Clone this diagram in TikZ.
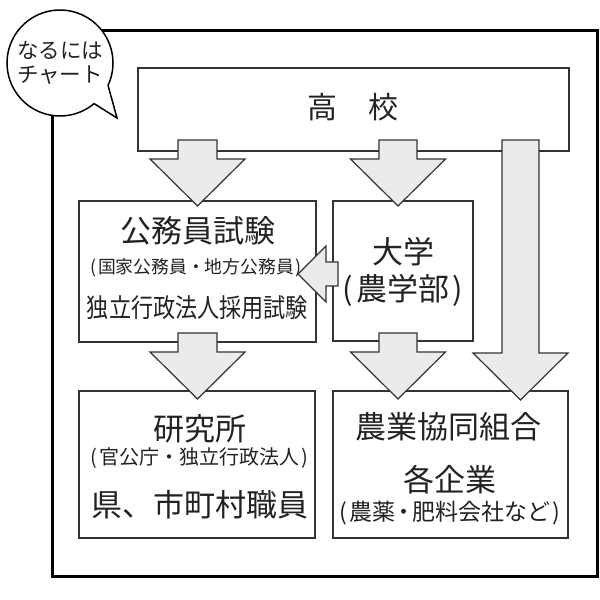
\documentclass[tikz,border=0pt]{standalone}
\usepackage{fontspec}
\newfontfamily\jp{Noto Sans CJK JP}
\usetikzlibrary{calc}
\definecolor{linec}{HTML}{333333}
\definecolor{arrfill}{HTML}{EBEBEB}
\definecolor{txtc}{HTML}{222222}
\newcommand\bdown[7]{%
  \path[blockarrow] let \p1=(#1.south), \p2=(#2.north) in
  ({#3pt-#6pt},{\y1+#4pt}) -- ({#3pt+#6pt},{\y1+#4pt}) -- ({#3pt+#6pt},{\y2-#5pt+47pt})
  -- ({#3pt+#7pt},{\y2-#5pt+47pt}) -- ({#3pt},{\y2-#5pt}) -- ({#3pt-#7pt},{\y2-#5pt+47pt})
  -- ({#3pt-#6pt},{\y2-#5pt+47pt}) -- cycle;}
\begin{document}
\begin{tikzpicture}[x=1pt,y=1pt,
  box/.style={draw=linec, line width=1.3pt, fill=white, inner sep=0pt, outer sep=0pt},
  blockarrow/.style={draw=linec, line width=1.2pt, fill=arrfill, line join=miter},
  txt/.style={inner sep=0pt, text=txtc},
  big/.style={txt, font=\jp\fontsize{31}{31}\selectfont},
  fs/.style={txt, font=\jp\fontsize{#1}{#1}\selectfont},
]
\useasboundingbox (0,0) rectangle (600,600);
\fill[white] (0,0) rectangle (600,600);

% outer frame
\node[draw=black, line width=3pt, minimum width=545pt, minimum height=546pt, inner sep=0pt, outer sep=0pt] (frame) at (324.5,296) {};

% boxes
\node[box, minimum width=431pt, minimum height=83pt] (hs) at (353.5,490.5) {};
\node[box, minimum width=237pt, minimum height=141pt] (koumu) at (197.5,328.5) {};
\node[box, minimum width=140pt, minimum height=140pt] (daigaku) at (403,329) {};
\node[box, minimum width=236pt, minimum height=147pt] (kenkyu) at (197,135.5) {};
\node[box, minimum width=235pt, minimum height=147pt] (nokyo) at (450.5,135.5) {};

% block arrows
\bdown{hs}{koumu}{197.5}{11}{5}{19.5}{47.5}
\bdown{hs}{daigaku}{398}{11}{5}{19}{47.5}
\bdown{hs}{nokyo}{520.5}{11}{9}{18.5}{47.5}
\bdown{koumu}{kenkyu}{197.5}{9}{8}{19.5}{47.5}
\bdown{daigaku}{nokyo}{398}{8}{8}{19}{47.5}
\path[blockarrow] let \p1=(daigaku.west), \p2=(koumu.east) in
  ({\x1+5pt},338pt) -- ({\x2+10pt},338pt) -- ({\x2+10pt},354pt) -- ({\x2-18pt},326pt)
  -- ({\x2+10pt},298pt) -- ({\x2+10pt},314pt) -- ({\x1+5pt},314pt) -- cycle;

% texts
\node[txt, font=\jp\fontsize{30}{30}\selectfont] (ths) at (353,493) {高\hspace{32pt}校};
\node[big] (tk1) at (197.5,369.5) {公務員試験};
\node[fs=17.8] (tk2) at (196,332) {(\kern.1em国家公務員・地方公務員\kern.1em)};
\node[fs=26] (tk3) at (197.5,292.5) {\scalebox{0.85}[1]{独立行政法人採用試験}};
\node[big] (td1) at (403,348) {大学};
\node[big] (td2) at (403,310) {(\kern.1em農学部\kern.1em)};
\node[big] (tr1) at (200,171.5) {研究所};
\node[fs=20] (tr2) at (199,142) {(\kern.1em官公庁・独立行政法人\kern.1em)};
\node[big] (tr3) at (200,95) {県、市町村職員};
\node[big] (tn1) at (448,173) {農業協同組合};
\node[big] (tn2) at (450,120) {各企業};
\node[fs=23] (tn3) at (450,87) {(\kern.1em農薬\kern-.15em・\kern-.15em肥料会社など\kern.1em)};

% speech bubble
\coordinate (bc) at (60,537);
\coordinate (btip) at (117,482);
\filldraw[fill=white, draw=black, line width=1.5pt] (btip) -- ($(bc)+(-25:53)$) arc[start angle=-25, end angle=310, radius=53] -- cycle;
\node[fs=21.5] (b1) at (60,550) {なるには};
\node[fs=21.5] (b2) at (60,525) {チャート};
\end{tikzpicture}
\end{document}
